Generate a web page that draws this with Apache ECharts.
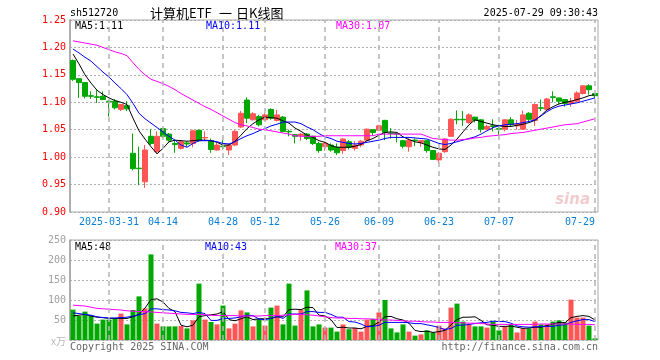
<!DOCTYPE html>
<html><head><meta charset="utf-8">
<script src="https://cdn.jsdelivr.net/npm/echarts@6/dist/echarts.min.js"></script>
<style>html,body{margin:0;padding:0;background:#fff}#c{width:660px;height:360px}</style>
</head><body><div id="c"></div>
<script>
const dates = ['2025-03-21','2025-03-24','2025-03-25','2025-03-26','2025-03-27','2025-03-28','2025-03-31',
'2025-04-01','2025-04-02','2025-04-03','2025-04-07','2025-04-08','2025-04-09','2025-04-10','2025-04-11','2025-04-14','2025-04-15','2025-04-16','2025-04-17','2025-04-18','2025-04-21','2025-04-22','2025-04-23','2025-04-24','2025-04-25','2025-04-28','2025-04-29','2025-04-30',
'2025-05-06','2025-05-07','2025-05-08','2025-05-09','2025-05-12','2025-05-13','2025-05-14','2025-05-15','2025-05-16','2025-05-19','2025-05-20','2025-05-21','2025-05-22','2025-05-23','2025-05-26','2025-05-27','2025-05-28','2025-05-29','2025-05-30',
'2025-06-03','2025-06-04','2025-06-05','2025-06-06','2025-06-09','2025-06-10','2025-06-11','2025-06-12','2025-06-13','2025-06-16','2025-06-17','2025-06-18','2025-06-19','2025-06-20','2025-06-23','2025-06-24','2025-06-25','2025-06-26','2025-06-27','2025-06-30',
'2025-07-01','2025-07-02','2025-07-03','2025-07-04','2025-07-07','2025-07-08','2025-07-09','2025-07-10','2025-07-11','2025-07-14','2025-07-15','2025-07-16','2025-07-17','2025-07-18','2025-07-21','2025-07-22','2025-07-23','2025-07-24','2025-07-25','2025-07-28','2025-07-29'];

const labelDates = ['2025-03-31','2025-04-14','2025-04-28','2025-05-12','2025-05-26','2025-06-09','2025-06-23','2025-07-07','2025-07-29'];

const openP = [1.176,1.143,1.136,1.112,1.110,1.111,1.102,1.102,1.087,1.094,1.007,0.980,0.955,1.038,1.010,1.052,1.042,1.025,1.016,1.026,1.025,1.049,1.035,1.030,1.013,1.020,1.013,1.022,1.055,1.104,1.068,1.074,1.068,1.087,1.067,1.073,1.047,1.041,1.039,1.042,1.038,1.025,1.019,1.022,1.018,1.012,1.028,1.016,1.022,1.031,1.050,1.049,1.067,1.044,1.043,1.030,1.019,1.031,1.027,1.030,1.012,0.995,1.010,1.038,1.069,1.069,1.063,1.073,1.068,1.051,1.057,1.052,1.051,1.068,1.057,1.051,1.080,1.067,1.090,1.087,1.110,1.108,1.105,1.098,1.102,1.116,1.130,1.116];
const closeP = [1.142,1.136,1.111,1.111,1.109,1.105,1.101,1.090,1.096,1.088,0.979,0.979,1.013,1.025,1.038,1.038,1.031,1.023,1.028,1.024,1.048,1.030,1.036,1.014,1.022,1.019,1.022,1.047,1.080,1.071,1.079,1.059,1.077,1.071,1.077,1.047,1.046,1.038,1.042,1.034,1.025,1.012,1.025,1.013,1.008,1.033,1.018,1.022,1.029,1.051,1.045,1.057,1.045,1.043,1.042,1.020,1.031,1.030,1.030,1.012,0.996,1.007,1.033,1.069,1.068,1.068,1.077,1.067,1.051,1.056,1.056,1.051,1.068,1.059,1.060,1.077,1.069,1.096,1.089,1.106,1.109,1.102,1.098,1.102,1.117,1.130,1.123,1.112];
const lowP = [1.139,1.108,1.107,1.106,1.099,1.104,1.074,1.087,1.084,1.084,0.976,0.949,0.944,1.022,1.007,1.035,1.028,1.008,1.014,1.019,1.018,1.028,1.030,1.008,1.012,1.014,1.004,1.020,1.053,1.062,1.067,1.056,1.067,1.068,1.065,1.045,1.038,1.025,1.030,1.031,1.022,1.008,1.012,1.010,1.004,1.006,1.014,1.012,1.018,1.030,1.039,1.048,1.031,1.034,1.027,1.016,1.010,1.020,1.019,1.008,0.995,0.990,1.008,1.037,1.060,1.057,1.061,1.063,1.045,1.049,1.047,1.041,1.047,1.056,1.050,1.050,1.065,1.057,1.084,1.085,1.100,1.096,1.092,1.092,1.100,1.114,1.114,1.108];
const highP = [1.178,1.144,1.137,1.120,1.122,1.120,1.104,1.106,1.096,1.102,1.043,1.019,1.022,1.051,1.047,1.053,1.044,1.031,1.031,1.028,1.050,1.050,1.047,1.034,1.026,1.031,1.025,1.050,1.084,1.109,1.082,1.077,1.080,1.089,1.086,1.075,1.050,1.041,1.044,1.044,1.039,1.028,1.028,1.025,1.025,1.035,1.031,1.029,1.031,1.052,1.051,1.059,1.068,1.053,1.043,1.031,1.034,1.034,1.031,1.031,1.013,1.009,1.035,1.071,1.085,1.084,1.080,1.073,1.069,1.059,1.069,1.059,1.069,1.073,1.068,1.085,1.082,1.098,1.105,1.108,1.120,1.108,1.106,1.108,1.120,1.131,1.133,1.117];

const ma5 = [1.188,1.170,1.150,1.135,1.122,1.114,1.108,1.103,1.100,1.096,1.071,1.048,1.033,1.019,1.006,1.016,1.028,1.031,1.030,1.029,1.030,1.031,1.031,1.030,1.027,1.022,1.022,1.029,1.040,1.052,1.061,1.068,1.073,1.072,1.071,1.066,1.062,1.053,1.047,1.040,1.036,1.030,1.027,1.021,1.018,1.018,1.018,1.020,1.023,1.030,1.034,1.040,1.045,1.046,1.045,1.037,1.032,1.028,1.026,1.022,1.018,1.015,1.014,1.022,1.033,1.046,1.059,1.068,1.065,1.062,1.059,1.057,1.056,1.056,1.058,1.060,1.063,1.067,1.076,1.086,1.092,1.097,1.100,1.102,1.105,1.108,1.112,1.114];
const ma10 = [1.197,1.190,1.182,1.175,1.165,1.155,1.146,1.135,1.125,1.114,1.098,1.080,1.070,1.062,1.054,1.046,1.038,1.031,1.022,1.018,1.025,1.030,1.030,1.030,1.028,1.025,1.024,1.028,1.034,1.039,1.043,1.048,1.052,1.057,1.060,1.064,1.064,1.064,1.061,1.055,1.050,1.043,1.037,1.034,1.029,1.027,1.025,1.024,1.025,1.027,1.029,1.031,1.034,1.036,1.036,1.036,1.036,1.035,1.034,1.033,1.029,1.025,1.023,1.025,1.028,1.031,1.034,1.037,1.042,1.048,1.054,1.057,1.059,1.060,1.061,1.063,1.065,1.068,1.075,1.083,1.089,1.093,1.095,1.097,1.099,1.102,1.105,1.108];
const ma30 = [1.212,1.210,1.208,1.206,1.204,1.200,1.196,1.192,1.189,1.185,1.172,1.160,1.150,1.142,1.138,1.134,1.129,1.123,1.116,1.110,1.104,1.098,1.092,1.087,1.081,1.075,1.069,1.063,1.059,1.057,1.054,1.051,1.050,1.048,1.046,1.044,1.042,1.039,1.038,1.038,1.038,1.038,1.039,1.039,1.039,1.039,1.039,1.039,1.039,1.039,1.039,1.042,1.042,1.042,1.042,1.042,1.042,1.042,1.042,1.038,1.034,1.033,1.032,1.031,1.031,1.032,1.033,1.035,1.036,1.038,1.039,1.040,1.041,1.043,1.044,1.045,1.047,1.049,1.051,1.053,1.055,1.057,1.059,1.060,1.061,1.064,1.067,1.070];

const volume = [76,60,71,60,41,51,51,55,66,39,75,109,79,214,41,34,34,34,35,29,49,141,51,45,39,86,29,41,74,69,34,52,36,81,86,39,141,36,76,124,34,39,31,31,21,39,27,30,21,51,53,69,100,29,19,39,21,11,14,24,19,36,29,81,91,46,39,34,34,31,46,24,34,39,19,29,29,46,39,39,46,49,44,101,56,56,36,4];
const vma5 = [60,62,64,60,57,56,54,54,54,54,58,64,80,101,103,95,79,71,37,33,37,58,61,63,65,71,51,48,53,58,51,53,53,54,58,58,76,77,76,82,81,62,60,51,31,32,30,30,28,34,36,45,58,59,53,50,42,24,21,22,19,21,24,38,51,57,57,58,49,38,37,34,34,35,32,29,30,32,32,36,40,44,43,56,59,61,59,50];
const vma10 = [68,66,64,62,58,56,55,55,56,57,60,63,66,78,78,76,75,73,69,68,66,69,66,49,49,54,54,55,58,62,61,52,51,54,59,54,65,65,65,71,71,69,69,64,57,57,46,45,40,33,34,37,44,44,44,44,43,41,41,38,35,31,26,29,37,37,39,41,43,44,47,46,46,42,35,33,32,33,34,34,34,37,38,44,48,51,51,46];
const vma30 = [87,86,85,82,79,78,77,76,75,73,72,71,71,70,69,68,67,66,65,64,64,64,63,62,61,61,61,61,60,60,60,60,61,61,61,62,63,64,64,63,62,60,58,56,55,55,54,54,53,53,52,51,50,50,49,48,47,47,46,45,45,44,44,44,43,43,42,42,41,40,39,39,39,39,39,39,39,39,40,40,40,40,40,40,39,39,39,38];

const yPriceTicks = [0.90,0.95,1.00,1.05,1.10,1.15,1.20,1.25];
const yVolTicks = [0,50,100,150,200,250];

const UP = '#ff5555', DOWN = '#00a800';
const MONO = 'DejaVu Sans Mono';
const CJK = '"Noto Sans CJK SC"';

const candleData = dates.map((d,i)=>[openP[i], closeP[i], lowP[i], highP[i]]);
const volData = volume.map((v,i)=>({value:v, itemStyle:{color: closeP[i] >= openP[i] ? UP : DOWN}}));
const vLineStyle = {type:[5,4], color:'#b4b4b4', width:1.5};
const vMarks = {silent:true, symbol:['none','none'], label:{show:false}, lineStyle:vLineStyle, data: labelDates.map(d=>({xAxis:d}))};

function txt(text, x, y, fill, font, align){
  return {type:'text', x:x, y:y, silent:true, style:{text:text, fill:fill, font:font, align:align||'left', verticalAlign:'middle'}};
}

const chart = echarts.init(document.getElementById('c'), null, {renderer:'canvas'});
chart.setOption({
  animation:false,
  backgroundColor:'#fff',
  grid:[
    {left:70, top:20, width:528, height:192, show:true, borderColor:'#a8a8a8', borderWidth:1, backgroundColor:'transparent'},
    {left:70, top:240, width:528, height:100, show:true, borderColor:'#a8a8a8', borderWidth:1, backgroundColor:'transparent'}
  ],
  xAxis:[
    {type:'category', gridIndex:0, data:dates, boundaryGap:true,
     axisLine:{show:false}, axisTick:{show:false}, splitLine:{show:false},
     axisLabel:{show:true, interval:function(i,v){return labelDates.indexOf(v)>=0;}, formatter:function(v){return v===labelDates[0]?v:v.slice(5);},
       color:'#0a7fd6', fontFamily:MONO, fontSize:10, margin:5, alignMaxLabel:'right'}},
    {type:'category', gridIndex:1, data:dates, boundaryGap:true,
     axisLine:{show:false}, axisTick:{show:false}, splitLine:{show:false}, axisLabel:{show:false}}
  ],
  yAxis:[
    {type:'value', gridIndex:0, min:yPriceTicks[0], max:yPriceTicks[yPriceTicks.length-1], interval:0.05,
     axisLine:{show:true, lineStyle:{color:'#a0a0a0', width:1.5}}, axisTick:{show:false},
     axisLabel:{color:'#ff0000', fontFamily:MONO, fontSize:10, margin:4, formatter:function(v){return v.toFixed(2);}},
     splitLine:{show:true, lineStyle:{type:[2,2], color:'#b0b0b0', width:1}}},
    {type:'value', gridIndex:1, min:yVolTicks[0], max:yVolTicks[yVolTicks.length-1], interval:50,
     axisLine:{show:true, lineStyle:{color:'#a0a0a0', width:1.5}}, axisTick:{show:false},
     axisLabel:{color:'#a0a0a0', fontFamily:MONO, fontSize:10, margin:4, formatter:function(v){return v===0?'':String(v);}},
     splitLine:{show:true, lineStyle:{type:[2,2], color:'#b0b0b0', width:1}}}
  ],
  series:[
    {type:'line', xAxisIndex:0, yAxisIndex:0, data:[], z:1, markLine:vMarks},
    {type:'line', xAxisIndex:1, yAxisIndex:1, data:[], z:1, markLine:vMarks},
    {type:'candlestick', xAxisIndex:0, yAxisIndex:0, data:candleData, barWidth:5, z:3,
     itemStyle:{color:UP, color0:DOWN, borderColor:UP, borderColor0:DOWN, borderWidth:1}},
    {type:'line', xAxisIndex:0, yAxisIndex:0, data:ma5, symbol:'none', z:4, lineStyle:{color:'#000000', width:1}},
    {type:'line', xAxisIndex:0, yAxisIndex:0, data:ma10, symbol:'none', z:4, lineStyle:{color:'#0000ff', width:1}},
    {type:'line', xAxisIndex:0, yAxisIndex:0, data:ma30, symbol:'none', z:4, lineStyle:{color:'#ff00ff', width:1}},
    {type:'bar', xAxisIndex:1, yAxisIndex:1, data:volData, barWidth:5, z:3},
    {type:'line', xAxisIndex:1, yAxisIndex:1, data:vma5, symbol:'none', z:4, lineStyle:{color:'#000000', width:1}},
    {type:'line', xAxisIndex:1, yAxisIndex:1, data:vma10, symbol:'none', z:4, lineStyle:{color:'#0000ff', width:1}},
    {type:'line', xAxisIndex:1, yAxisIndex:1, data:vma30, symbol:'none', z:4, lineStyle:{color:'#ff00ff', width:1}}
  ],
  graphic:[
    txt('sh512720', 70, 13, '#000', '10px '+MONO),
    txt('计算机ETF', 150, 13, '#000', '13px '+CJK),
    txt('一', 219, 13, '#000', '13px '+CJK),
    txt('日K线图', 236, 13, '#000', '13px '+CJK),
    txt('2025-07-29 09:30:43', 598, 13, '#000', '10px '+MONO, 'right'),
    txt('MA5:1.11', 75, 26, '#000', '10px '+MONO),
    txt('MA10:1.11', 206, 26, '#0000ff', '10px '+MONO),
    txt('MA30:1.07', 336, 26, '#ff00ff', '10px '+MONO),
    txt('MA5:48', 75, 247, '#000', '10px '+MONO),
    txt('MA10:43', 205, 247, '#0000ff', '10px '+MONO),
    txt('MA30:37', 335, 247, '#ff00ff', '10px '+MONO),
    txt('x万', 66, 341, '#b8b8b8', '10px '+CJK, 'right'),
    txt('Copyright 2025 SINA.COM', 70, 347, '#666', '10px '+MONO),
    txt('http://finance.sina.com.cn', 598, 347, '#666', '10px '+MONO, 'right'),
    txt('sina', 590, 200, '#f2cccc', 'italic bold 15px "DejaVu Sans"', 'right')
  ]
});
</script></body></html>
